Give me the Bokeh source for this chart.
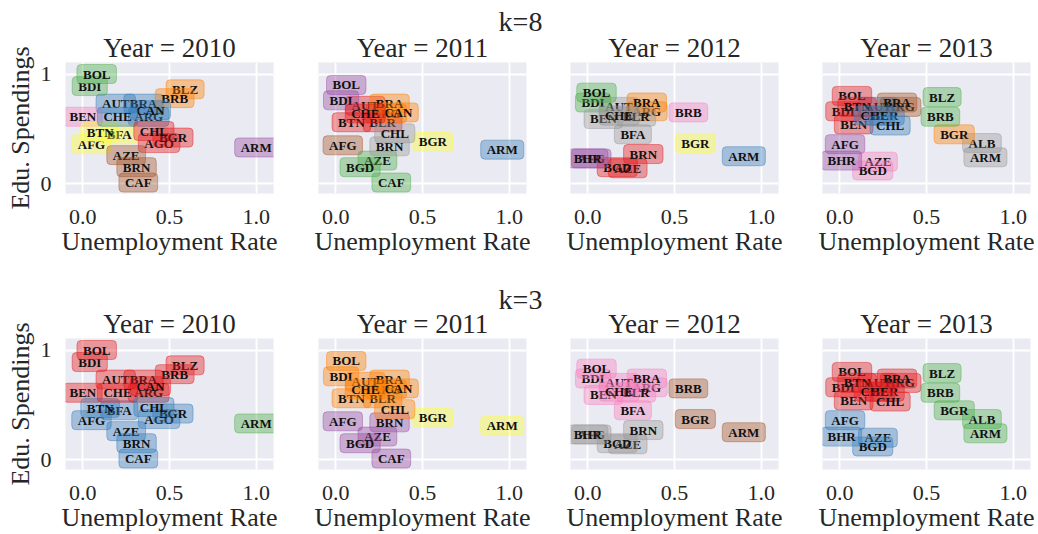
import math
from bokeh.plotting import figure
from bokeh.models import Range1d, FixedTicker, ColumnDataSource, Grid
from bokeh.layouts import column, row
from bokeh.core.properties import value
from bokeh.embed import file_html
from bokeh.resources import INLINE

SET1 = ["#e41a1c", "#377eb8", "#4daf4a", "#984ea3", "#ff7f00",
        "#ffff33", "#a65628", "#f781bf", "#999999"]

years = [2010, 2011, 2012, 2013]
x_ticks = [0.0, 0.5, 1.0]
x_tick_labels = ["0.0", "0.5", "1.0"]
y_ticks = [0, 1]
y_tick_labels = ["0", "1"]

countries_2010 = ["AFG", "AGO", "ARG", "ARM", "AUT", "AZE", "BDI", "BEN", "BFA", "BGR",
                  "BLZ", "BOL", "BRA", "BRB", "BRN", "BTN", "CAF", "CAN", "CHE", "CHL"]
unemp_2010 = [0.05, 0.44, 0.38, 1.00, 0.19, 0.25, 0.04, 0.00, 0.21, 0.52,
              0.59, 0.08, 0.35, 0.53, 0.31, 0.10, 0.32, 0.39, 0.20, 0.41]
edu_2010 = [0.36, 0.37, 0.61, 0.33, 0.73, 0.26, 0.89, 0.61, 0.45, 0.42,
            0.86, 1.00, 0.73, 0.78, 0.15, 0.47, 0.01, 0.67, 0.61, 0.48]
k8_2010 = [5, 0, 1, 3, 1, 6, 2, 7, 5, 0, 4, 2, 1, 4, 6, 5, 6, 1, 1, 0]
k3_2010 = [1, 1, 0, 2, 0, 1, 0, 0, 1, 1, 0, 0, 0, 0, 1, 1, 1, 0, 0, 1]

countries_2011 = ["AFG", "ARG", "ARM", "AUT", "AZE", "BDI", "BGD", "BGR", "BLR", "BOL",
                  "BRA", "BRN", "BTN", "CAF", "CAN", "CHE", "CHL"]
unemp_2011 = [0.04, 0.29, 0.96, 0.17, 0.24, 0.03, 0.14, 0.56, 0.27, 0.06,
              0.31, 0.31, 0.09, 0.32, 0.36, 0.17, 0.34]
edu_2011 = [0.35, 0.64, 0.31, 0.71, 0.21, 0.76, 0.15, 0.38, 0.56, 0.90,
            0.73, 0.34, 0.56, 0.01, 0.65, 0.64, 0.46]
k8_2011 = [6, 4, 1, 0, 2, 3, 2, 5, 0, 3, 4, 8, 0, 2, 4, 0, 8]
k3_2011 = [3, 4, 5, 4, 3, 4, 3, 5, 4, 4, 4, 3, 4, 3, 4, 4, 4]

countries_2012 = ["AFG", "ARG", "ARM", "AUT", "AZE", "BDI", "BEN", "BFA", "BGD", "BGR",
                  "BHR", "BLR", "BOL", "BRA", "BRB", "BRN", "CHE"]
unemp_2012 = [0.02, 0.34, 0.90, 0.18, 0.23, 0.03, 0.09, 0.26, 0.17, 0.62,
              0.00, 0.28, 0.05, 0.34, 0.58, 0.32, 0.18]
edu_2012 = [0.23, 0.66, 0.25, 0.70, 0.14, 0.74, 0.59, 0.45, 0.15, 0.37,
            0.23, 0.61, 0.83, 0.74, 0.65, 0.27, 0.62]
k8_2012 = [3, 4, 1, 8, 0, 2, 8, 8, 0, 5, 3, 8, 2, 4, 7, 0, 8]
k3_2012 = [8, 7, 6, 7, 8, 7, 7, 7, 8, 6, 8, 7, 7, 7, 6, 8, 7]

countries_2013 = ["AFG", "ALB", "ARG", "ARM", "AUT", "AZE", "BDI", "BEN", "BGD", "BGR",
                  "BHR", "BLR", "BLZ", "BOL", "BRA", "BRB", "BTN", "CHE", "CHL"]
unemp_2013 = [0.03, 0.82, 0.35, 0.84, 0.22, 0.22, 0.02, 0.08, 0.19, 0.66,
              0.01, 0.26, 0.59, 0.07, 0.33, 0.58, 0.10, 0.20, 0.29]
edu_2013 = [0.36, 0.37, 0.70, 0.24, 0.70, 0.20, 0.66, 0.54, 0.12, 0.45,
            0.21, 0.62, 0.79, 0.80, 0.74, 0.61, 0.70, 0.62, 0.53]
k8_2013 = [3, 8, 6, 8, 1, 7, 0, 0, 7, 4, 3, 1, 2, 0, 6, 2, 0, 1, 1]
k3_2013 = [1, 2, 0, 2, 0, 1, 0, 0, 1, 2, 1, 0, 2, 0, 0, 2, 0, 0, 0]

data = {
    2010: (countries_2010, unemp_2010, edu_2010, k8_2010, k3_2010),
    2011: (countries_2011, unemp_2011, edu_2011, k8_2011, k3_2011),
    2012: (countries_2012, unemp_2012, edu_2012, k8_2012, k3_2012),
    2013: (countries_2013, unemp_2013, edu_2013, k8_2013, k3_2013),
}

SERIF = value("Liberation Serif")
TXT = "#262626"

FRAME_W, FRAME_H = 208, 131
YLAB_W = 36                        # strip holding the rotated y-axis title
LEFTS = [29, 37, 36, 36]           # left border of each panel figure
RIGHTS = [8, 8, 8, 7]              # right border of each panel figure
PANELS_W = sum(LEFTS) + sum(RIGHTS) + 4 * FRAME_W
BOTTOM = 64
ROW_H = FRAME_H + BOTTOM


def frame_centers():
    xs, pos = [], 0
    for l, r in zip(LEFTS, RIGHTS):
        xs.append(pos + l + FRAME_W / 2)
        pos += l + FRAME_W + r
    return xs


def blank(w, h):
    p = figure(width=w, height=h, x_range=Range1d(0, w), y_range=Range1d(0, h),
               output_backend="svg", toolbar_location=None,
               x_axis_location=None, y_axis_location=None, min_border=0)
    p.grid.visible = False
    p.outline_line_color = None
    return p


def header(label, h, y_sup, y_titles):
    """Band above a row of panels: the k title and the four year titles."""
    p = blank(PANELS_W, h)
    p.text(x=[520 - YLAB_W], y=[h - y_sup], text=[label], text_align="center",
           text_baseline="middle", text_font=SERIF, text_font_size="28px",
           text_color=TXT)
    p.text(x=frame_centers(), y=[h - y_titles] * 4, text=[f"Year = {y}" for y in years],
           text_align="center", text_baseline="middle", text_font=SERIF,
           text_font_size="27px", text_color=TXT)
    return p


def ylabel_strip(header_h):
    h = header_h + ROW_H
    p = blank(YLAB_W, h)
    yc = header_h + FRAME_H / 2
    p.text(x=[19.5], y=[h - yc], text=["Edu. Spendings"], angle=math.pi / 2,
           text_align="center", text_baseline="middle", text_font=SERIF,
           text_font_size="26px", text_color=TXT)
    return p


def panel(year, kidx, i):
    names, xs, ys, k8, k3 = data[year]
    cl = k8 if kidx == 8 else k3
    first = i == 0
    src = ColumnDataSource(dict(x=xs, y=ys, name=names, fillc=[SET1[c] for c in cl]))
    p = figure(frame_width=FRAME_W, frame_height=FRAME_H,
               x_range=Range1d(-0.1, 1.1), y_range=Range1d(-0.09, 1.105),
               output_backend="svg", toolbar_location=None,
               y_axis_location="left" if first else None,
               min_border_left=LEFTS[i], min_border_right=RIGHTS[i],
               min_border_top=0, min_border_bottom=BOTTOM)
    p.background_fill_color = "#eaeaf2"
    p.border_fill_color = "white"
    p.outline_line_color = None
    p.xaxis.ticker = FixedTicker(ticks=x_ticks)
    p.xgrid.ticker = FixedTicker(ticks=x_ticks)
    if len(p.ygrid) == 0:
        p.add_layout(Grid(dimension=1, ticker=FixedTicker(ticks=y_ticks)))
    p.ygrid.ticker = FixedTicker(ticks=y_ticks)
    for g in list(p.xgrid) + list(p.ygrid):
        g.grid_line_color = "white"
        g.grid_line_width = 1.8
    p.xaxis.major_label_overrides = dict(zip(x_ticks, x_tick_labels))
    axes = [p.xaxis[0]] + ([p.yaxis[0]] if first else [])
    for ax in axes:
        ax.axis_line_color = None
        ax.major_tick_line_color = None
        ax.minor_tick_line_color = None
        ax.major_tick_out = 0
        ax.major_tick_in = 0
        ax.major_label_text_font = "Liberation Serif"
        ax.major_label_text_font_size = "22px"
        ax.major_label_text_color = TXT
        ax.axis_label_text_font = "Liberation Serif"
        ax.axis_label_text_font_size = "26px"
        ax.axis_label_text_font_style = "normal"
        ax.axis_label_text_color = TXT
    p.xaxis.axis_label = "Unemployment Rate"
    p.xaxis.major_label_standoff = 16
    p.xaxis.axis_label_standoff = 0
    if first:
        p.yaxis.ticker = FixedTicker(ticks=y_ticks)
        p.yaxis.major_label_overrides = dict(zip(y_ticks, y_tick_labels))
        p.yaxis.major_label_standoff = 14
    p.text(x="x", y="y", text="name", source=src, text_align="center",
           text_baseline="middle", text_font=SERIF, text_font_style="bold",
           text_font_size="13px", text_color="#111111",
           background_fill_color="fillc", background_fill_alpha=0.4,
           border_line_color="fillc", border_line_alpha=0.45, border_line_width=1,
           padding=(6, 2), border_radius=4)
    return p


def block(kidx, label, header_h, y_sup, y_titles):
    panels = row(*[panel(y, kidx, i) for i, y in enumerate(years)])
    return row(ylabel_strip(header_h),
               column(header(label, header_h, y_sup, y_titles), panels))


layout = column(block(8, "k=8", 62, 21, 47),
                block(3, "k=3", 80, 41, 65))

open("out.html", "w").write(file_html(layout, INLINE))
